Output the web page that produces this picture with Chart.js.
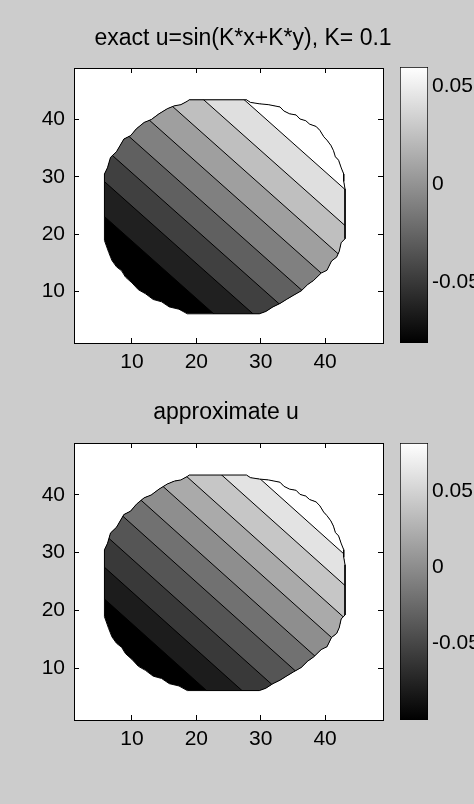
<!DOCTYPE html>
<html>
<head>
<meta charset="utf-8">
<script src="https://cdn.jsdelivr.net/npm/chart.js@4"></script>
<style>
  html, body { margin: 0; padding: 0; background: #cccccc; }
  body { width: 474px; height: 804px; position: relative; overflow: hidden; }
  canvas { position: absolute; }
</style>
</head>
<body>
<canvas id="exact" width="400" height="400" style="left:0;top:0"></canvas>
<canvas id="approx" width="400" height="420" style="left:0;top:360px"></canvas>
<canvas id="exactTitle" width="486" height="68" style="left:0;top:0"></canvas>
<canvas id="approxTitle" width="452" height="83" style="left:0;top:360px"></canvas>
<canvas id="exactBar" width="84" height="400" style="left:390px;top:0"></canvas>
<canvas id="approxBar" width="84" height="420" style="left:390px;top:360px"></canvas>
<script>
// axis ticks
const xTicks = [10, 20, 30, 40];
const yTicks = [10, 20, 30, 40];
const cbTicks = [-0.05, 0, 0.05];
const cbLabels = ['-0.05', '0', '0.05'];

// outline of the disk (grid units)
const diskX = [18.9, 27.8, 28.4, 29.8, 31.2, 33.0, 33.6, 34.5, 35.5, 36.1, 37.0, 37.6, 38.6, 39.2, 39.8,
  40.3, 40.9, 41.3, 41.6, 42.1, 42.5, 42.9, 42.9, 43.1, 43.1, 42.5, 42.2, 41.8, 41.0, 40.3, 39.4, 38.2,
  37.3, 36.3, 35.05, 34.0, 33.0, 31.9, 30.8, 29.8, 18.6, 17.3, 15.8, 14.6, 13.3, 12.1, 11.0, 10.0, 9.0,
  8.4, 7.6, 6.9, 6.4, 5.73, 5.73, 6.2, 6.67, 7.6, 8.75, 9.8, 10.7, 11.9, 13.0, 14.2, 15.5, 16.6, 17.6, 18.6];
const diskY = [43.45, 43.45, 43.0, 42.75, 42.6, 42.2, 41.5, 41.0, 40.8, 40.1, 39.8, 39.2, 38.8, 38.1, 37.0,
  36.4, 35.5, 34.6, 33.5, 32.9, 31.6, 30.5, 29.2, 27.9, 19.2, 18.5, 17.0, 16.0, 15.3, 13.7, 13.2, 11.9,
  11.2, 10.1, 9.3, 8.6, 7.9, 7.3, 6.5, 6.1, 6.1, 6.9, 7.3, 8.2, 8.6, 9.6, 10.3, 11.5, 12.5,
  13.6, 14.3, 15.4, 16.8, 18.9, 30.5, 31.6, 33.4, 34.4, 36.6, 37.2, 38.4, 39.5, 40.0, 41.0, 41.9, 42.4, 42.6, 43.2];

// contour lines: y where each line crosses x = lineX[0] and x = lineX[1]
const lineX = [0, 50];
const exactStartY = [28.8, 34.9, 40.7, 46.6, 52.6, 58.6, 64.6, 70.9];
const exactEndY = [-21.2, -15.1, -9.3, -3.4, 2.6, 8.6, 14.6, 20.9];
const approxStartY = [27.7, 33.2, 38.9, 44.9, 50.5, 56.3, 61.7, 67.4, 72.7];
const approxEndY = [-22.3, -16.8, -11.1, -5.1, 0.5, 6.3, 11.7, 17.4, 22.7];

// colour bar limits
const exactRange = [-0.081, 0.060];
const approxRange = [-0.101, 0.082];

const exactShades = ['#000000', '#202020', '#404040', '#606060', '#808080', '#9f9f9f', '#bfbfbf', '#dfdfdf', '#ffffff'];
const approxShades = ['#000000', '#1c1c1c', '#393939', '#555555', '#717171', '#8e8e8e', '#aaaaaa', '#c6c6c6', '#e3e3e3', '#ffffff'];

const FONT = "'Liberation Sans', Arial, sans-serif";

const whiteArea = {
  id: 'whiteArea',
  beforeDraw(chart) {
    const {ctx, chartArea: a} = chart;
    ctx.save();
    ctx.fillStyle = '#ffffff';
    ctx.fillRect(a.left, a.top, a.width, a.height);
    ctx.restore();
  }
};

// clip the contour fills to the disk, release it before the outline is drawn
const diskClip = {
  id: 'diskClip',
  beforeDatasetsDraw(chart) {
    const {ctx, scales: {x, y}} = chart;
    ctx.save();
    ctx.beginPath();
    diskX.forEach((v, i) => {
      const px = x.getPixelForValue(v), py = y.getPixelForValue(diskY[i]);
      if (i === 0) ctx.moveTo(px, py); else ctx.lineTo(px, py);
    });
    ctx.closePath();
    ctx.clip();
    chart.$clipped = true;
  },
  beforeDatasetDraw(chart, args) {
    if (chart.data.datasets[args.index].outline && chart.$clipped) {
      chart.ctx.restore();
      chart.$clipped = false;
    }
  },
  afterDatasetsDraw(chart) {
    if (chart.$clipped) {
      chart.ctx.restore();
      chart.$clipped = false;
    }
  }
};

function boxAxis(position, ticks, size, extra) {
  const horiz = position === 'top' || position === 'bottom';
  return Object.assign({
    type: 'linear',
    position,
    min: 1,
    max: 49,
    afterBuildTicks: s => { s.ticks = ticks.map(v => ({value: v})); },
    grid: { drawOnChartArea: false, tickLength: -5, color: '#000' },
    border: { color: '#000', width: 1 },
    afterFit: s => { if (horiz) s.height = size; else s.width = size; }
  }, extra);
}

function contourChart(id, startY, endY, shades, padTop, axisH) {
  const pts = diskX.map((x, i) => ({x, y: diskY[i]}));
  const datasets = [{ data: pts, fill: 'shape', backgroundColor: shades[0], borderWidth: 0 }];
  startY.forEach((y0, i) => {
    datasets.push({
      data: [{x: lineX[0], y: y0}, {x: lineX[1], y: endY[i]}],
      fill: 'end',
      backgroundColor: shades[i + 1],
      borderColor: '#000',
      borderWidth: 1
    });
  });
  datasets.push({ outline: true, data: pts.concat([pts[0]]), fill: false, borderColor: '#000', borderWidth: 1 });
  datasets.forEach((d, i) => { d.order = datasets.length - i; d.pointRadius = 0; d.tension = 0; });

  const tickFont = { family: FONT, size: 21 };
  return new Chart(document.getElementById(id), {
    type: 'line',
    data: { datasets },
    options: {
      responsive: false,
      animation: false,
      events: [],
      layout: { padding: { left: 0, right: 17, top: padTop, bottom: 0 } },
      plugins: { legend: { display: false }, tooltip: { enabled: false } },
      scales: {
        x: boxAxis('bottom', xTicks, axisH, { ticks: { font: tickFont, color: '#000', padding: 12, maxRotation: 0, autoSkip: false } }),
        x2: boxAxis('top', xTicks, 0, { ticks: { display: false } }),
        y: boxAxis('left', yTicks, 74, { ticks: { font: tickFont, color: '#000', padding: 14, autoSkip: false } }),
        y2: boxAxis('right', yTicks, 0, { ticks: { display: false } })
      }
    },
    plugins: [whiteArea, diskClip]
  });
}

// the subplot titles sit off the axes centre in the reference, so each gets its own strip
function titleStrip(id, text, padTop) {
  return new Chart(document.getElementById(id), {
    type: 'line',
    data: { datasets: [] },
    options: {
      responsive: false,
      animation: false,
      events: [],
      plugins: {
        legend: { display: false },
        tooltip: { enabled: false },
        title: {
          display: true,
          text,
          color: '#000',
          font: { family: FONT, size: 23, weight: 'normal', lineHeight: 1.2 },
          padding: { top: padTop, bottom: 0 }
        }
      },
      scales: { x: { display: false }, y: { display: false } }
    }
  });
}

function colorBar(id, range, top, bottom) {
  const barAxis = (position, width, showLabels) => ({
    type: 'linear',
    position,
    min: range[0],
    max: range[1],
    afterBuildTicks: s => { s.ticks = cbTicks.map(v => ({value: v})); },
    ticks: {
      display: showLabels,
      font: { family: FONT, size: 21 },
      color: '#000',
      padding: 8,
      callback: v => cbLabels[cbTicks.indexOf(v)]
    },
    grid: { drawOnChartArea: false, tickLength: -4, color: '#000' },
    border: { display: false },
    afterFit: s => { s.width = width; }
  });
  return new Chart(document.getElementById(id), {
    type: 'bar',
    data: {
      labels: ['u'],
      datasets: [{
        data: [range],
        backgroundColor: c => {
          const a = c.chart.chartArea;
          if (!a) return '#808080';
          const g = c.chart.ctx.createLinearGradient(0, a.bottom, 0, a.top);
          g.addColorStop(0, '#000000');
          g.addColorStop(1, '#ffffff');
          return g;
        },
        borderColor: '#000',
        borderWidth: 1,
        borderSkipped: false,
        barPercentage: 1,
        categoryPercentage: 1
      }]
    },
    options: {
      responsive: false,
      animation: false,
      events: [],
      layout: { padding: { left: 10, right: 0, top, bottom } },
      plugins: { legend: { display: false }, tooltip: { enabled: false } },
      scales: {
        x: { display: false },
        y: barAxis('left', 0, false),
        y2: barAxis('right', 46, true)
      }
    }
  });
}

contourChart('exact', exactStartY, exactEndY, exactShades, 68, 57);
contourChart('approx', approxStartY, approxEndY, approxShades, 83, 60);
titleStrip('exactTitle', 'exact u=sin(K*x+K*y), K= 0.1', 25);
titleStrip('approxTitle', 'approximate u', 38.7);
colorBar('exactBar', exactRange, 67, 57);
colorBar('approxBar', approxRange, 83, 60);
</script>
</body>
</html>
